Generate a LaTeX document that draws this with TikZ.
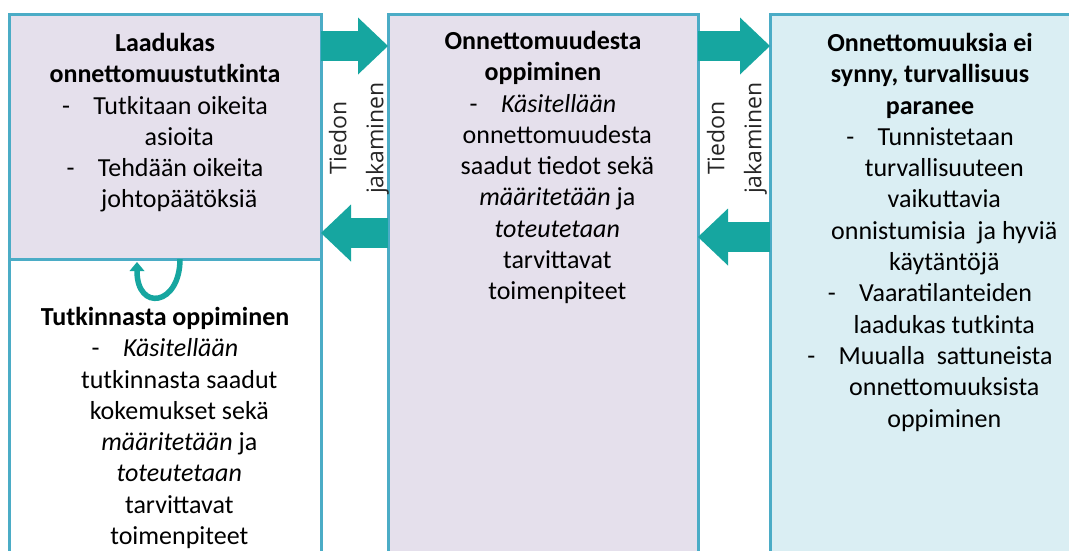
\documentclass[tikz,border=0pt]{standalone}
\usepackage{fontspec}
\setmainfont{Carlito}
\newfontfamily\labelfont{Open Sans}
\usetikzlibrary{arrows.meta,positioning}
\definecolor{boxline}{RGB}{75,172,198}
\definecolor{lilac}{RGB}{229,224,236}
\definecolor{paleblue}{RGB}{218,238,243}
\definecolor{arrowteal}{RGB}{22,166,160}
\newcommand{\dashitem}{-\hspace{0.9em}}
\newcommand{\contline}{\hspace*{1.1em}}
\tikzset{
	box/.style={draw=boxline, line width=3pt, anchor=north west, inner sep=0pt, outer sep=0pt},
	boxtext/.style={align=center, inner sep=0pt, font=\fontsize{26}{31.3}\selectfont},
	fatarrow/.style={draw=arrowteal, line width=30pt, -{Triangle[length=30pt, width=57pt, line width=0pt]}},
	looparrow/.style={draw=arrowteal, line width=5.5pt, -{Triangle[length=9pt, width=15pt, line width=0pt]}},
	sidelabel/.style={rotate=90, align=center, inner sep=0pt, text=black!85, font=\labelfont\fontsize{23}{37}\selectfont}
}
\begin{document}
\begin{tikzpicture}[x=1pt, y=-1pt]

			\useasboundingbox (0,0) rectangle (1069,550);
			\clip (0,0) rectangle (1069,550);

			% Draw the boxes
			\node[box, fill=lilac, minimum width=312pt, minimum height=245pt] (quality) at (9,14) {};
			\node[box, fill=white, minimum width=312pt, minimum height=310pt] (studylearn) at (9,259) {};
			\node[box, fill=lilac, minimum width=310pt, minimum height=560pt] (acclearn) at (388,14) {};
			\node[box, fill=paleblue, minimum width=320pt, minimum height=560pt] (safety) at (770,14) {};

			% Information goes forward and back
			\draw[fatarrow] (quality.east |- 0,46) -- (acclearn.west |- 0,46);
			\draw[fatarrow] (acclearn.west |- 0,233) -- (quality.east |- 0,233);
			\draw[fatarrow] (acclearn.east |- 0,46) -- (safety.west |- 0,46);
			\draw[fatarrow] (safety.west |- 0,237) -- (acclearn.east |- 0,237);

			% Learning loop under the first box
			\draw[looparrow] ([xshift=15pt]quality.south) .. controls +(0,47) and +(0,50) .. ([xshift=-28pt, yshift=-3pt]quality.south);

			% Labels between the boxes
			\node[sidelabel] (share1) at (359,138) {Tiedon\\jakaminen};
			\node[sidelabel] (share2) at (737,138) {Tiedon\\jakaminen};

			% Texts of the boxes
			\node[boxtext, below=19pt of quality.north] (qualitytext) {\textbf{Laadukas}\\ \textbf{onnettomuustutkinta}\\ \dashitem Tutkitaan oikeita\\ \contline asioita\\ \dashitem Tehdään oikeita\\ \contline johtopäätöksiä};
			\node[boxtext, below=48pt of studylearn.north] (studytext) {\textbf{Tutkinnasta oppiminen}\\ \dashitem\textit{Käsitellään}\\ \contline tutkinnasta saadut\\ \contline kokemukset sekä\\ \contline\textit{määritetään} ja\\ \contline\textit{toteutetaan}\\ \contline tarvittavat\\ \contline toimenpiteet};
			\node[boxtext, below=17pt of acclearn.north] (acctext) {\textbf{Onnettomuudesta}\\ \textbf{oppiminen}\\ \dashitem\textit{Käsitellään}\\ \contline onnettomuudesta\\ \contline saadut tiedot sekä\\ \contline\textit{määritetään} ja\\ \contline\textit{toteutetaan}\\ \contline tarvittavat\\ \contline toimenpiteet};
			\node[boxtext, below=19pt of safety.north] (safetytext) {\textbf{Onnettomuuksia ei}\\ \textbf{synny, turvallisuus}\\ \textbf{paranee}\\ \dashitem Tunnistetaan\\ \contline turvallisuuteen\\ \contline vaikuttavia\\ \contline onnistumisia~~ja hyviä\\ \contline käytäntöjä\\ \dashitem Vaaratilanteiden\\ \contline laadukas tutkinta\\ \dashitem Muualla~~sattuneista\\ \contline onnettomuuksista\\ \contline oppiminen};

\end{tikzpicture}
\end{document}
